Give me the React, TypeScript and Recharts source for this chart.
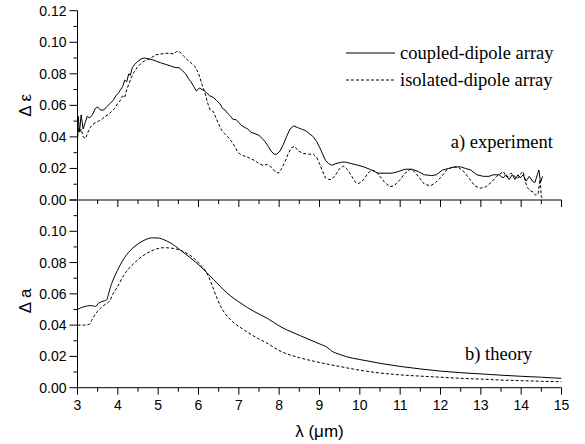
import React from 'react';
import { LineChart, Line, XAxis, YAxis, Legend } from 'recharts';

// Wavelength axis (µm): major ticks every 1, minor every 0.5
const wavelengthTicks = [3, 3.5, 4, 4.5, 5, 5.5, 6, 6.5, 7, 7.5, 8, 8.5, 9, 9.5, 10, 10.5, 11, 11.5, 12, 12.5, 13, 13.5, 14, 14.5, 15];
const valueTicks = [0, 0.01, 0.02, 0.03, 0.04, 0.05, 0.06, 0.07, 0.08, 0.09, 0.1, 0.11, 0.12];
const epsLabels = [0, 0.02, 0.04, 0.06, 0.08, 0.1, 0.12];
const absLabels = [0, 0.02, 0.04, 0.06, 0.08, 0.1];
const majorValues = [0, 0.02, 0.04, 0.06, 0.08, 0.1, 0.12];

const seriesNames = ['coupled-dipole array', 'isolated-dipole array'];

// a) experiment — Δε versus wavelength
const expCoupled: [number, number][] = [
  [3.0, 0.038], [3.02, 0.053], [3.05, 0.043], [3.09, 0.054], [3.14, 0.045], [3.19, 0.049], [3.24, 0.053],
  [3.3, 0.052], [3.37, 0.054], [3.44, 0.058], [3.5, 0.059], [3.57, 0.057], [3.65, 0.057], [3.72, 0.059],
  [3.8, 0.061], [3.88, 0.063], [3.95, 0.066], [4.02, 0.068], [4.07, 0.07], [4.12, 0.072], [4.17, 0.076],
  [4.22, 0.075], [4.27, 0.08], [4.31, 0.079], [4.36, 0.084], [4.42, 0.086], [4.5, 0.088], [4.58, 0.0895],
  [4.66, 0.09], [4.75, 0.0895], [4.85, 0.089], [4.95, 0.088], [5.06, 0.087], [5.18, 0.086], [5.31, 0.085],
  [5.42, 0.084], [5.52, 0.0838], [5.6, 0.082], [5.68, 0.08], [5.75, 0.077], [5.81, 0.075], [5.88, 0.072],
  [5.95, 0.069], [6.02, 0.071], [6.09, 0.07], [6.15, 0.069], [6.2, 0.068], [6.28, 0.066], [6.37, 0.065],
  [6.45, 0.063], [6.53, 0.061], [6.6, 0.058], [6.66, 0.057], [6.72, 0.055], [6.8, 0.053], [6.86, 0.051],
  [6.93, 0.051], [7.0, 0.049], [7.08, 0.047], [7.15, 0.046], [7.22, 0.045], [7.3, 0.043], [7.4, 0.042],
  [7.5, 0.041], [7.58, 0.039], [7.65, 0.037], [7.73, 0.034], [7.8, 0.031], [7.87, 0.029], [7.94, 0.029],
  [8.02, 0.031], [8.1, 0.035], [8.18, 0.04], [8.27, 0.045], [8.36, 0.047], [8.45, 0.046], [8.55, 0.045],
  [8.65, 0.044], [8.75, 0.042], [8.85, 0.04], [8.93, 0.037], [9.01, 0.033], [9.08, 0.029], [9.15, 0.025],
  [9.23, 0.023], [9.3, 0.022], [9.4, 0.023], [9.55, 0.024], [9.65, 0.024], [9.8, 0.023], [9.96, 0.022],
  [10.1, 0.021], [10.29, 0.019], [10.45, 0.017], [10.6, 0.017], [10.8, 0.017], [10.95, 0.018], [11.12, 0.0195],
  [11.3, 0.0195], [11.45, 0.018], [11.6, 0.016], [11.78, 0.0155], [11.9, 0.016], [12.05, 0.019], [12.2, 0.02],
  [12.35, 0.021], [12.5, 0.021], [12.62, 0.02], [12.75, 0.019], [12.9, 0.016], [13.06, 0.015], [13.2, 0.015],
  [13.31, 0.016], [13.45, 0.016], [13.55, 0.014], [13.62, 0.016], [13.7, 0.013], [13.78, 0.016], [13.85, 0.013],
  [13.92, 0.016], [13.98, 0.014], [14.05, 0.016], [14.12, 0.012], [14.2, 0.015], [14.28, 0.012], [14.34, 0.011],
  [14.4, 0.016], [14.44, 0.019], [14.48, 0.011], [14.53, 0.015],
];

const expIsolated: [number, number][] = [
  [3.0, 0.04], [3.03, 0.046], [3.06, 0.043], [3.09, 0.045], [3.14, 0.04], [3.2, 0.039], [3.26, 0.043],
  [3.32, 0.046], [3.38, 0.048], [3.45, 0.049], [3.52, 0.05], [3.6, 0.051], [3.68, 0.053], [3.76, 0.054],
  [3.84, 0.056], [3.92, 0.058], [3.99, 0.061], [4.06, 0.063], [4.12, 0.066], [4.17, 0.065], [4.22, 0.07],
  [4.28, 0.074], [4.34, 0.078], [4.4, 0.081], [4.48, 0.084], [4.57, 0.0865], [4.65, 0.088], [4.73, 0.0888],
  [4.82, 0.09], [4.94, 0.092], [5.06, 0.0925], [5.19, 0.093], [5.3, 0.093], [5.39, 0.0926], [5.45, 0.094],
  [5.5, 0.0945], [5.57, 0.093], [5.64, 0.091], [5.72, 0.089], [5.81, 0.087], [5.9, 0.085], [5.97, 0.082],
  [6.03, 0.078], [6.09, 0.073], [6.16, 0.068], [6.22, 0.062], [6.29, 0.057], [6.37, 0.056], [6.45, 0.051],
  [6.52, 0.047], [6.58, 0.044], [6.65, 0.042], [6.73, 0.04], [6.82, 0.037], [6.9, 0.034], [6.96, 0.031],
  [7.03, 0.029], [7.12, 0.028], [7.2, 0.0275], [7.3, 0.026], [7.4, 0.025], [7.5, 0.023], [7.6, 0.022],
  [7.7, 0.0225], [7.8, 0.021], [7.9, 0.018], [7.98, 0.017], [8.06, 0.02], [8.14, 0.024], [8.22, 0.029],
  [8.3, 0.033], [8.38, 0.034], [8.48, 0.031], [8.6, 0.0295], [8.75, 0.029], [8.85, 0.029], [8.93, 0.027],
  [9.0, 0.023], [9.08, 0.018], [9.15, 0.014], [9.23, 0.013], [9.3, 0.013], [9.4, 0.016], [9.5, 0.02],
  [9.6, 0.0215], [9.7, 0.019], [9.8, 0.015], [9.9, 0.011], [9.98, 0.0105], [10.1, 0.013], [10.2, 0.017],
  [10.3, 0.019], [10.4, 0.018], [10.5, 0.015], [10.62, 0.011], [10.75, 0.0085], [10.85, 0.009], [11.0, 0.013],
  [11.12, 0.017], [11.25, 0.0195], [11.35, 0.018], [11.48, 0.014], [11.6, 0.01], [11.75, 0.009], [11.88, 0.011],
  [12.03, 0.015], [12.15, 0.019], [12.3, 0.021], [12.45, 0.0205], [12.58, 0.018], [12.7, 0.014], [12.85, 0.009],
  [12.98, 0.0075], [13.1, 0.008], [13.25, 0.011], [13.39, 0.015], [13.5, 0.017], [13.56, 0.018], [13.62, 0.015],
  [13.68, 0.015], [13.75, 0.017], [13.81, 0.016], [13.87, 0.014], [13.93, 0.014], [14.0, 0.017], [14.05, 0.018],
  [14.1, 0.012], [14.15, 0.008], [14.22, 0.006], [14.3, 0.005], [14.36, 0.003], [14.42, 0.004], [14.47, 0.013],
  [14.5, 0.002], [14.53, 0.001],
];

// b) theory — Δa versus wavelength
const thCoupled: [number, number][] = [
  [3.0, 0.05], [3.16, 0.0518], [3.33, 0.0525], [3.4, 0.0522], [3.45, 0.052], [3.52, 0.054], [3.6, 0.055],
  [3.67, 0.0556], [3.72, 0.056], [3.76, 0.059], [3.82, 0.0645], [3.9, 0.07], [3.99, 0.075], [4.15, 0.0825],
  [4.3, 0.0875], [4.45, 0.091], [4.65, 0.0942], [4.85, 0.0958], [5.0, 0.0957], [5.15, 0.0945], [5.31, 0.0925],
  [5.56, 0.0878], [5.81, 0.0828], [6.05, 0.0775], [6.38, 0.069], [6.71, 0.0605], [7.05, 0.054], [7.38, 0.0487],
  [7.71, 0.0443], [8.02, 0.0392], [8.52, 0.0333], [9.01, 0.0279], [9.18, 0.026], [9.3, 0.0235], [9.51, 0.0212],
  [9.67, 0.0198], [10.0, 0.018], [10.5, 0.0156], [11.0, 0.0136], [11.5, 0.012], [12.0, 0.0106], [12.5, 0.0096],
  [13.0, 0.0088], [13.5, 0.008], [14.0, 0.0073], [14.5, 0.0067], [15.0, 0.006],
];

const thIsolated: [number, number][] = [
  [3.0, 0.04], [3.15, 0.04], [3.29, 0.0405], [3.35, 0.043], [3.42, 0.046], [3.49, 0.0486], [3.58, 0.051],
  [3.66, 0.0528], [3.74, 0.054], [3.8, 0.0555], [3.86, 0.059], [3.99, 0.0645], [4.15, 0.072], [4.4, 0.0795],
  [4.65, 0.0848], [4.9, 0.0882], [5.14, 0.0895], [5.39, 0.089], [5.64, 0.0868], [5.89, 0.0827], [6.05, 0.0784],
  [6.2, 0.0735], [6.3, 0.068], [6.38, 0.0625], [6.47, 0.0565], [6.55, 0.052], [6.67, 0.047], [6.8, 0.0433],
  [7.13, 0.0369], [7.46, 0.0317], [7.69, 0.0286], [8.02, 0.0235], [8.5, 0.0192], [8.85, 0.017], [9.51, 0.0135],
  [10.0, 0.0112], [10.5, 0.0094], [11.0, 0.0082], [11.5, 0.0074], [12.0, 0.0067], [12.5, 0.006], [13.0, 0.0055],
  [13.5, 0.0049], [14.0, 0.0045], [14.5, 0.0041], [15.0, 0.0038],
];

const toPoints = (pairs: [number, number][]) => pairs.map(([x, y]) => ({ x, y }));

const SANS = '"Liberation Sans", Arial, sans-serif';
const SERIF = '"Liberation Serif", "Times New Roman", serif';
const INK = '#000';
const DASH = '3 2';

const WIDTH = 585;
const PLOT_LEFT = 77.5;
const PLOT_RIGHT_GAP = 23.5;

const isClose = (a: number, b: number) => Math.abs(a - b) < 1e-6;

const XTick = (props: any) => {
  const { x, y, payload, showLabel } = props;
  const v = payload.value;
  const major = Number.isInteger(v);
  return (
    <g>
      <line x1={x} x2={x} y1={y} y2={y + (major ? 7 : 4)} stroke={INK} strokeWidth={1} />
      {showLabel && major && (
        <text x={x} y={y + 22} textAnchor="middle" fontFamily={SANS} fontSize={14} fill={INK}>
          {v}
        </text>
      )}
    </g>
  );
};

const YTick = (props: any) => {
  const { x, y, payload, labels } = props;
  const v = payload.value;
  const major = majorValues.some((m) => isClose(m, v));
  const labelled = (labels as number[]).some((m) => isClose(m, v));
  return (
    <g>
      <line x1={x - (major ? 8 : 4)} x2={x} y1={y} y2={y} stroke={INK} strokeWidth={1} />
      {labelled && (
        <text x={x - 11} y={y} dy="0.36em" textAnchor="end" fontFamily={SANS} fontSize={14} fill={INK}>
          {v.toFixed(2)}
        </text>
      )}
    </g>
  );
};

const YTitle = (props: any) => {
  const { viewBox, text, shift } = props;
  const cx = viewBox.x + 25;
  const cy = viewBox.y + viewBox.height / 2 + (shift || 0);
  return (
    <text
      transform={`translate(${cx}, ${cy}) rotate(-90)`}
      textAnchor="middle"
      dominantBaseline="central"
      fontFamily={SANS}
      fontSize={17}
      fill={INK}
    >
      {text}
    </text>
  );
};

const XTitle = (props: any) => {
  const { viewBox, text } = props;
  const cx = viewBox.x + viewBox.width / 2;
  return (
    <text x={cx} y={viewBox.y + 49} textAnchor="middle" fontFamily={SANS} fontSize={17} fill={INK}>
      {text}
    </text>
  );
};

const LegendBox = (props: any) => {
  const { payload } = props;
  const items = (payload || []) as any[];
  return (
    <div style={{ fontFamily: SERIF, fontSize: 18.5, color: INK }}>
      {items.map((entry, i) => {
        const dash = entry?.payload?.strokeDasharray ?? (i === 1 ? DASH : undefined);
        return (
          <div key={i} style={{ display: 'flex', alignItems: 'center', height: 26.7, whiteSpace: 'nowrap' }}>
            <svg width={49} height={10} style={{ marginRight: 5, flex: 'none' }}>
              <line x1={0} x2={49} y1={5} y2={5} stroke={INK} strokeWidth={1} strokeDasharray={dash} />
            </svg>
            <span style={{ lineHeight: '20px' }}>{entry.value}</span>
          </div>
        );
      })}
    </div>
  );
};

const lineProps = {
  dataKey: 'y',
  stroke: INK,
  strokeWidth: 1,
  dot: false,
  activeDot: false,
  isAnimationActive: false,
} as const;

export default function App() {
  return (
    <div style={{ position: 'absolute', left: 0, top: 0, width: WIDTH, height: 444, background: '#fff', overflow: 'hidden' }}>
      {/* a) experiment */}
      <div style={{ position: 'absolute', left: 0, top: 0 }}>
        <LineChart width={WIDTH} height={215} margin={{ top: 10.7, right: PLOT_RIGHT_GAP, bottom: 0, left: 0 }}>
          <XAxis
            type="number"
            dataKey="x"
            domain={[3, 15]}
            allowDataOverflow
            ticks={wavelengthTicks}
            interval={0}
            tickSize={0}
            tickMargin={0}
            height={15}
            axisLine={{ stroke: INK, strokeWidth: 1 }}
            tick={(p: any) => <XTick {...p} showLabel={false} />}
          />
          <YAxis
            type="number"
            domain={[0, 0.12]}
            allowDataOverflow
            ticks={valueTicks}
            interval={0}
            tickSize={0}
            tickMargin={0}
            width={PLOT_LEFT}
            axisLine={{ stroke: INK, strokeWidth: 1 }}
            tick={(p: any) => <YTick {...p} labels={epsLabels} />}
            label={<YTitle text="Δ ε" shift={0} />}
          />
          <Legend
            layout="vertical"
            align="center"
            verticalAlign="middle"
            content={<LegendBox />}
            wrapperStyle={{ left: 346, top: 40, width: 230, height: 54 }}
          />
          <Line {...lineProps} name={seriesNames[0]} data={toPoints(expCoupled)} type="linear" />
          <Line {...lineProps} name={seriesNames[1]} data={toPoints(expIsolated)} type="linear" strokeDasharray={DASH} />
        </LineChart>
      </div>

      {/* b) theory */}
      <div style={{ position: 'absolute', left: 0, top: 190 }}>
        <LineChart width={WIDTH} height={254} margin={{ top: 10, right: PLOT_RIGHT_GAP, bottom: 0, left: 0 }}>
          <XAxis
            type="number"
            dataKey="x"
            domain={[3, 15]}
            allowDataOverflow
            ticks={wavelengthTicks}
            interval={0}
            tickSize={0}
            tickMargin={0}
            height={56.3}
            axisLine={{ stroke: INK, strokeWidth: 1 }}
            tick={(p: any) => <XTick {...p} showLabel />}
            label={<XTitle text="λ (μm)" />}
          />
          <YAxis
            type="number"
            domain={[0, 0.12]}
            allowDataOverflow
            ticks={valueTicks}
            interval={0}
            tickSize={0}
            tickMargin={0}
            width={PLOT_LEFT}
            axisLine={{ stroke: INK, strokeWidth: 1 }}
            tick={(p: any) => <YTick {...p} labels={absLabels} />}
            label={<YTitle text="Δ a" shift={7} />}
          />
          <Line {...lineProps} name={seriesNames[0]} data={toPoints(thCoupled)} type="monotone" />
          <Line {...lineProps} name={seriesNames[1]} data={toPoints(thIsolated)} type="monotone" strokeDasharray={DASH} />
        </LineChart>
      </div>

      <div style={{ position: 'absolute', left: 450.7, top: 131.7, fontFamily: SERIF, fontSize: 18.5, lineHeight: '20px', color: INK, whiteSpace: 'nowrap' }}>
        a) experiment
      </div>
      <div style={{ position: 'absolute', left: 465, top: 344, fontFamily: SERIF, fontSize: 18.5, lineHeight: '20px', color: INK, whiteSpace: 'nowrap' }}>
        b) theory
      </div>
    </div>
  );
}
